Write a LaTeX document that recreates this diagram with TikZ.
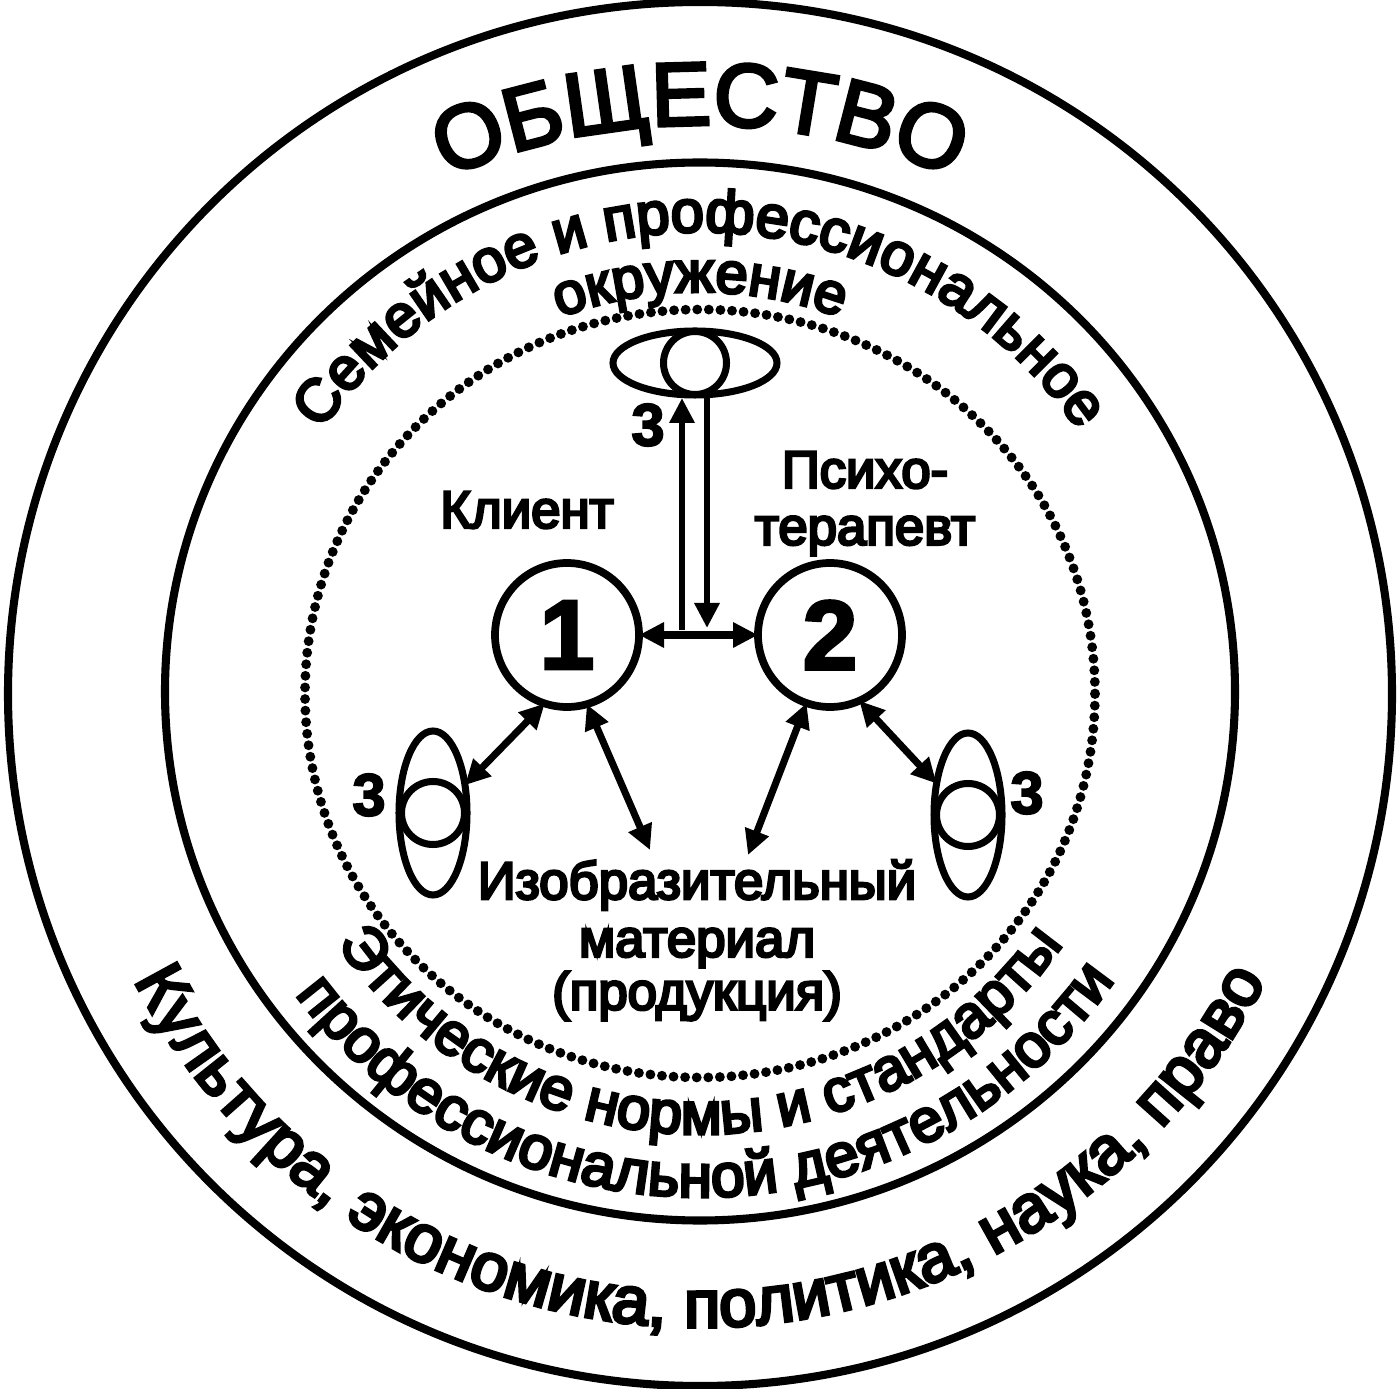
\documentclass[tikz,border=0pt]{standalone}
\usepackage{fontspec}
\setmainfont{Liberation Sans}
\newfontfamily\lblfont[FakeBold=5]{Liberation Sans}
\newfontfamily\capfont[FakeBold=4]{Liberation Sans}
\newfontfamily\numfont[BoldFont=Liberation Sans Bold,FakeBold=3]{Liberation Sans Bold}
\usetikzlibrary{arrows.meta,shapes.geometric,decorations.text}
\tikzset{
  ring/.style={line width=2.3pt},
  dotring/.style={line width=2.8pt, line cap=round, dash pattern=on 0pt off 3.3pt},
  party/.style={circle, draw, line width=2.2pt, minimum size=1.44cm, inner sep=0pt, outer sep=0pt, font=\numfont\fontsize{28pt}{30pt}\selectfont},
  eyelid/.style={ellipse, draw, line width=2pt, inner sep=0pt, outer sep=0pt},
  pupil/.style={circle, draw, line width=2pt, minimum size=.63cm, inner sep=0pt, outer sep=0pt},
  num/.style={font=\numfont\fontsize{17pt}{19pt}\selectfont},
  lbl/.style={font=\lblfont\fontsize{15pt}{18pt}\selectfont},
  conn/.style={line width=1.8pt, -{Triangle[length=.25cm,width=.24cm]}},
  twoway/.style={line width=2pt, {Triangle[length=.25cm,width=.24cm]}-{Triangle[length=.25cm,width=.24cm]}},
  along/.style 2 args={decorate, decoration={text along path, text align=center, text={|\lblfont\fontsize{#1}{#1}\selectfont|#2}}},
  alongcap/.style 2 args={decorate, decoration={text along path, text align=center, text={|\capfont\fontsize{#1}{#1}\selectfont|#2}}}
}
\begin{document}
\begin{tikzpicture}
  \useasboundingbox (0,0) rectangle (14,13.88);
  % rings
  \draw[ring] (7,6.94) circle (6.92);
  \draw[ring] (7,6.965) ellipse (5.35 and 5.29);
  \draw[dotring] (7,6.945) ellipse (3.95 and 3.84);
  % ring texts, top
  \path[alongcap={25.5pt}{ОБЩЕСТВО}] (7,6.26) ++(115:6.37) arc (115:65:6.37);
  \path[along={17pt}{Семейное и профессиональное}] (7,6.96) ++(150:4.6) arc (150:30:4.6);
  \path[along={16.5pt}{окружение}] (7,6.96) ++(115:4.0) arc (115:65:4.0);
  % ring texts, bottom
  \path[along={17pt}{Этические нормы и стандарты}] (7,6.96) ++(210:4.42) arc (210:330:4.42);
  \path[along={17.3pt}{профессиональной деятельности}] (7,6.96) ++(211:5.05) arc (211:331:5.05);
  \path[along={19pt}{Культура, экономика, политика, наука, право}] (7,6.96) ++(200:6.35) arc (200:340:6.35);
  % client and therapist
  \node[party] (cl) at (5.67,7.53) {1};
  \node[party] (th) at (8.30,7.53) {2};
  \node[lbl] (clname) at (5.27,8.78) {Клиент};
  \node[lbl] (thnameA) at (8.65,9.18) {Психо-};
  \node[lbl] (thnameB) at (8.65,8.52) {терапевт};
  % observers
  \node[eyelid, minimum width=1.64cm, minimum height=.64cm] (eyeT) at (6.95,10.25) {};
  \node[pupil] (pupT) at (6.95,10.25) {};
  \node[eyelid, minimum width=.68cm, minimum height=1.64cm] (eyeL) at (4.33,5.75) {};
  \node[pupil] (pupL) at (4.33,5.75) {};
  \node[eyelid, minimum width=.68cm, minimum height=1.64cm] (eyeR) at (9.68,5.73) {};
  \node[pupil] (pupR) at (9.68,5.73) {};
  \node[num] (numT) at (6.48,9.63) {3};
  \node[num] (numL) at (3.69,5.93) {3};
  \node[num] (numR) at (10.27,5.95) {3};
  % material
  \node[lbl] (matA) at (6.97,5.03) {Изобразительный};
  \node[lbl] (matB) at (6.97,4.40) {материал};
  \node[lbl] (matC) at (6.97,3.92) {(продукция)};
  % connectors
  \coordinate (upfoot) at (6.82,7.58);
  \coordinate (uptip) at (6.82,9.9);
  \coordinate (dntop) at (7.07,9.9);
  \coordinate (dntip) at (7.07,7.6);
  \coordinate (matL) at (6.5,5.38);
  \coordinate (matR) at (7.48,5.33);
  \draw[twoway] (cl) -- (th);
  \draw[conn] (upfoot) -- (uptip);
  \draw[conn] (dntop) -- (dntip);
  \draw[twoway] (cl.252) -- (eyeL.41);
  \draw[twoway] (cl.-74) -- (matL);
  \draw[twoway] (th.251) -- (matR);
  \draw[twoway] (th.-66) -- (eyeR.135);
\end{tikzpicture}
\end{document}
